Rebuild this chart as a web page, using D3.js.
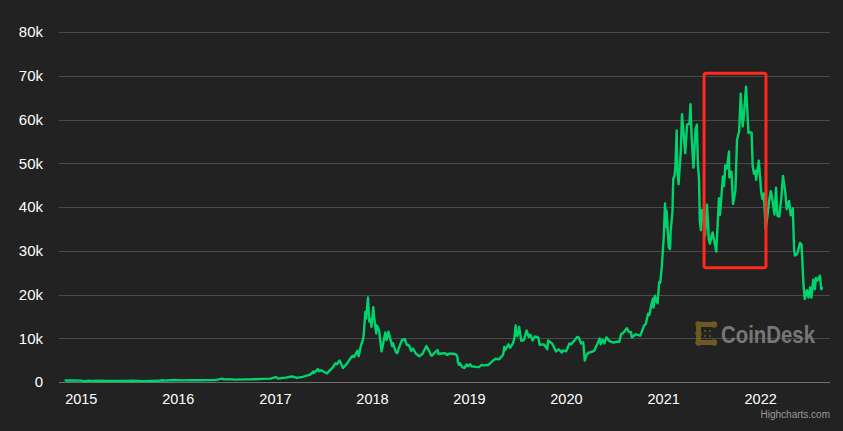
<!DOCTYPE html>
<html>
<head>
<meta charset="utf-8">
<script src="https://cdn.jsdelivr.net/npm/d3@7"></script>
<style>
  html, body { margin: 0; padding: 0; background: #222222; }
  svg { display: block; }
  text { font-family: "Liberation Sans", Arial, sans-serif; }
</style>
</head>
<body>
<svg id="chart" width="843" height="431"></svg>
<script>
// ---- data ----
const dates = [
"2014-11-05","2014-11-20","2014-12-10","2014-12-31","2015-01-14","2015-01-27","2015-02-15","2015-03-10","2015-04-10","2015-05-15",
"2015-06-15","2015-07-10","2015-08-25","2015-09-20","2015-10-20","2015-11-04","2015-11-12","2015-12-16","2016-01-15","2016-02-15",
"2016-03-15","2016-04-20","2016-05-20","2016-06-17","2016-06-22","2016-07-15","2016-08-02","2016-09-15","2016-10-15","2016-11-15",
"2016-12-15","2017-01-04","2017-01-12","2017-02-10","2017-02-28","2017-03-10","2017-03-24","2017-04-15","2017-05-04","2017-05-15",
"2017-05-25","2017-05-27","2017-06-11","2017-06-16","2017-06-24","2017-07-16","2017-07-25","2017-08-05","2017-08-17","2017-08-22",
"2017-09-01","2017-09-14","2017-09-29","2017-10-12","2017-10-20","2017-10-25","2017-11-07","2017-11-12","2017-11-20","2017-11-29",
"2017-12-01","2017-12-07","2017-12-10","2017-12-17","2017-12-22","2017-12-28","2017-12-30","2018-01-06","2018-01-09","2018-01-17",
"2018-01-20","2018-01-28","2018-02-06","2018-02-10","2018-02-20","2018-02-25","2018-03-04","2018-03-18","2018-03-21","2018-04-01",
"2018-04-06","2018-04-13","2018-04-24","2018-05-05","2018-05-12","2018-05-20","2018-05-29","2018-06-05","2018-06-15","2018-06-28",
"2018-07-10","2018-07-17","2018-07-25","2018-08-05","2018-08-10","2018-08-14","2018-08-25","2018-09-05","2018-09-08","2018-09-20",
"2018-10-01","2018-10-11","2018-10-20","2018-11-05","2018-11-14","2018-11-19","2018-11-20","2018-11-25","2018-11-28","2018-12-07",
"2018-12-15","2018-12-24","2018-12-28","2019-01-06","2019-01-10","2019-01-28","2019-02-07","2019-02-18","2019-02-24","2019-03-15",
"2019-04-02","2019-04-10","2019-04-25","2019-05-10","2019-05-14","2019-05-17","2019-05-30","2019-06-05","2019-06-16","2019-06-21",
"2019-06-26","2019-06-27","2019-07-02","2019-07-09","2019-07-17","2019-07-27","2019-08-06","2019-08-14","2019-08-20","2019-08-29",
"2019-09-06","2019-09-19","2019-09-24","2019-10-10","2019-10-23","2019-10-26","2019-11-10","2019-11-22","2019-11-25","2019-12-05",
"2019-12-17","2019-12-20","2020-01-02","2020-01-14","2020-01-20","2020-02-01","2020-02-12","2020-02-18","2020-02-27","2020-03-06",
"2020-03-12","2020-03-19","2020-03-26","2020-04-02","2020-04-16","2020-04-29","2020-05-07","2020-05-11","2020-05-18","2020-05-25",
"2020-06-01","2020-06-12","2020-06-27","2020-07-10","2020-07-20","2020-07-27","2020-08-02","2020-08-17","2020-08-26","2020-09-02",
"2020-09-05","2020-09-20","2020-10-07","2020-10-21","2020-10-28","2020-11-05","2020-11-10","2020-11-18","2020-11-24","2020-11-26",
"2020-12-01","2020-12-11","2020-12-17","2020-12-21","2020-12-27","2021-01-03","2021-01-08","2021-01-11","2021-01-14","2021-01-22",
"2021-01-27","2021-01-29","2021-02-05","2021-02-08","2021-02-13","2021-02-16","2021-02-21","2021-02-23","2021-02-28","2021-03-08",
"2021-03-13","2021-03-18","2021-03-25","2021-04-01","2021-04-10","2021-04-14","2021-04-18","2021-04-25","2021-05-03","2021-05-08",
"2021-05-12","2021-05-16","2021-05-19","2021-05-23","2021-05-27","2021-06-06","2021-06-08","2021-06-15","2021-06-22","2021-06-26",
"2021-07-06","2021-07-20","2021-07-30","2021-08-03","2021-08-14","2021-08-18","2021-08-23","2021-08-29","2021-09-06","2021-09-07",
"2021-09-15","2021-09-21","2021-09-30","2021-10-06","2021-10-14","2021-10-20","2021-10-27","2021-11-01","2021-11-09","2021-11-12",
"2021-11-18","2021-11-24","2021-11-30","2021-12-04","2021-12-09","2021-12-14","2021-12-17","2021-12-27","2022-01-05","2022-01-10",
"2022-01-15","2022-01-22","2022-01-28","2022-02-04","2022-02-10","2022-02-14","2022-02-24","2022-03-02","2022-03-07","2022-03-14",
"2022-03-22","2022-03-28","2022-04-06","2022-04-11","2022-04-20","2022-04-26","2022-05-04","2022-05-09","2022-05-12","2022-05-20",
"2022-05-31","2022-06-06","2022-06-13","2022-06-18","2022-06-26","2022-07-02","2022-07-08","2022-07-13","2022-07-20","2022-07-26",
"2022-07-30","2022-08-05","2022-08-14","2022-08-19","2022-08-22"
];
const prices = [
340,380,350,315,180,270,235,290,235,240,
245,285,210,230,270,400,310,455,380,400,
415,440,440,760,600,665,540,610,640,710,
780,1130,780,990,1190,1250,940,1180,1500,1750,
2400,2050,2950,2450,2700,1930,2600,3200,4300,4050,
4900,3200,4200,5400,6000,5700,7150,5900,8200,9900,
10900,16000,14500,19300,13800,14400,12600,17100,14900,11100,
12900,11700,7000,8100,11300,9600,11500,8200,8900,6800,
6600,7900,9600,9800,8500,8400,7100,7600,6500,5900,
6400,7300,8200,7000,6300,6000,6700,7300,6400,6500,
6600,6200,6500,6400,6300,5600,4500,3900,4300,3400,
3200,4000,3600,4050,3600,3450,3400,3900,3800,3900,
4900,5300,5200,6300,8000,7300,8600,7800,8900,10000,
12900,11200,10500,12600,9400,9600,11800,10300,10800,9500,
10400,10200,8500,8600,7500,9500,8800,7300,7000,7500,
6700,7200,7000,8800,8600,9400,10300,10200,8800,9100,
4900,6200,6700,6800,7100,8800,9950,8600,9700,8800,
10200,9400,9000,9200,9200,11000,11100,12300,11400,11400,
10200,10900,10600,12900,13300,15600,15300,17800,19100,17000,
19700,18000,22800,22700,26500,32800,40800,35500,39100,30800,
30400,34300,38900,46400,47200,49200,57500,48900,45200,52300,
61200,57600,52300,58800,59000,63500,56200,49000,57800,58800,
49500,46400,37000,34700,39300,35700,33500,40500,32500,31600,
34200,29800,42000,38200,47000,44800,49500,48800,52700,46800,
48100,40700,43800,55300,57300,65900,58400,61000,67500,64100,
56900,57100,57000,49200,47600,48300,46200,50600,43500,41800,
43100,35000,37700,41500,43600,42500,38300,44400,38000,37800,
42300,47100,43200,39500,41400,38100,39700,30100,28900,29200,
31800,31400,22400,19000,21000,19300,21600,19300,23400,21200,
23800,23200,24300,21200,21500
];
const yTicks = [0, 10000, 20000, 30000, 40000, 50000, 60000, 70000, 80000];
const yTickLabels = ["0", "10k", "20k", "30k", "40k", "50k", "60k", "70k", "80k"];
const xTickYears = ["2015", "2016", "2017", "2018", "2019", "2020", "2021", "2022"];
// highlighted window (red box) in data terms
const boxDates = ["2021-06-04", "2022-01-23"];
const boxValues = [26100, 70600];

// ---- layout ----
const W = 843, H = 431;
const plot = { left: 59, right: 830, top: 32, bottom: 382 };
const parse = d3.timeParse("%Y-%m-%d");
const series = dates.map((d, i) => ({ date: parse(d), value: prices[i] }));

const svg = d3.select("#chart");
svg.append("rect").attr("width", W).attr("height", H).attr("fill", "#222222");

const x = d3.scaleTime()
  .domain([parse("2014-10-11"), parse("2022-09-21")])
  .range([plot.left, plot.right]);
const y = d3.scaleLinear()
  .domain([0, 80000])
  .range([plot.bottom, plot.top]);

// gridlines + y labels
const yAxis = svg.append("g")
  .attr("transform", `translate(${plot.left},0)`)
  .call(d3.axisLeft(y).tickValues(yTicks)
    .tickSize(-(plot.right - plot.left))
    .tickPadding(16)
    .tickFormat((d, i) => yTickLabels[i]));
yAxis.select(".domain").remove();
yAxis.selectAll(".tick line")
  .attr("stroke", d => d === 0 ? "#707070" : "#4a4a4a")
  .attr("stroke-width", 1)
  .attr("shape-rendering", "crispEdges");
yAxis.selectAll(".tick text")
  .attr("fill", "#ffffff")
  .attr("font-size", "15px")
  .attr("font-family", "'Liberation Sans', Arial, sans-serif");

// x labels
const xAxis = svg.append("g")
  .attr("transform", `translate(0,${plot.bottom})`)
  .call(d3.axisBottom(x)
    .tickValues(xTickYears.map(yr => parse(yr + "-01-01")))
    .tickSize(0)
    .tickPadding(12)
    .tickFormat(d3.timeFormat("%Y")));
xAxis.select(".domain").remove();
xAxis.selectAll(".tick text")
  .attr("fill", "#ffffff")
  .attr("font-size", "14.5px")
  .attr("font-family", "'Liberation Sans', Arial, sans-serif");

// watermark logo (CoinDesk)
const logo = svg.append("g").attr("transform", "translate(696,322)").attr("opacity", 0.85);
const gold = "#7c6322";
logo.append("rect").attr("x", 0).attr("y", 0).attr("width", 5).attr("height", 23).attr("rx", 2.5).attr("fill", gold);
logo.append("rect").attr("x", 0).attr("y", 0).attr("width", 18).attr("height", 5).attr("rx", 2.5).attr("fill", gold);
logo.append("rect").attr("x", 0).attr("y", 18).attr("width", 18).attr("height", 5).attr("rx", 2.5).attr("fill", gold);
[[2.5,2.5],[2.5,20.5],[18,2.5],[18,20.5],[2.5,11.5]].forEach(p => {
  logo.append("circle").attr("cx", p[0]).attr("cy", p[1]).attr("r", 3.2).attr("fill", gold);
});
[[9,9],[14,9],[9,14],[14,14]].forEach(p => {
  logo.append("circle").attr("cx", p[0]).attr("cy", p[1]).attr("r", 1).attr("fill", gold);
});
svg.append("text")
  .attr("x", 721).attr("y", 342.5)
  .attr("font-size", "23px").attr("font-weight", "bold")
  .attr("fill", "#777777")
  .attr("textLength", 94).attr("lengthAdjust", "spacingAndGlyphs")
  .text("CoinDesk");

// price line
const line = d3.line()
  .x(d => x(d.date))
  .y(d => y(d.value))
  .curve(d3.curveLinear);
svg.append("path")
  .datum(series)
  .attr("fill", "none")
  .attr("stroke", "#00d46c")
  .attr("stroke-width", 2.4)
  .attr("stroke-linejoin", "round")
  .attr("stroke-linecap", "round")
  .attr("d", line);

// red highlight box
const bx0 = x(parse(boxDates[0])), bx1 = x(parse(boxDates[1]));
const by0 = y(boxValues[1]), by1 = y(boxValues[0]);
svg.append("rect")
  .attr("x", bx0).attr("y", by0)
  .attr("width", bx1 - bx0).attr("height", by1 - by0)
  .attr("rx", 2)
  .attr("fill", "none")
  .attr("stroke", "#ff2a1c")
  .attr("stroke-width", 3);

// credits
svg.append("text")
  .attr("x", 830).attr("y", 418)
  .attr("text-anchor", "end")
  .attr("font-size", "10px")
  .attr("fill", "#999999")
  .text("Highcharts.com");
</script>
</body>
</html>
